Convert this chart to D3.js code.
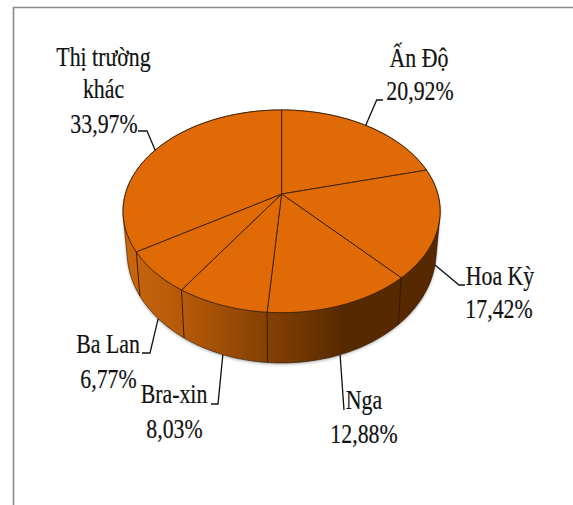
<!DOCTYPE html>
<html>
<head>
<meta charset="utf-8">
<script src="https://cdn.jsdelivr.net/npm/d3@7"></script>
<style>
  html, body { margin: 0; padding: 0; background: #fff; }
  svg { display: block; }
</style>
</head>
<body>
<div class="svg"></div>
<script>
const width = 573
const height = 505

// values, clockwise from the top
const categories = ['Ấn Độ', 'Hoa Kỳ', 'Nga', 'Bra-xin', 'Ba Lan', 'Thị trường khác']
const shares = [20.92, 17.42, 12.88, 8.03, 6.77, 33.97]
const shareLabels = ['20,92%', '17,42%', '12,88%', '8,03%', '6,77%', '33,97%']

// text rows and leader elbows for each label, same order as categories
const labelRows = [
  [['Ấn Độ', 419, 67], ['20,92%', 420, 100]],
  [['Hoa Kỳ', 500, 285], ['17,42%', 499, 318]],
  [['Nga', 364, 409], ['12,88%', 364, 443]],
  [['Bra-xin', 174, 403], ['8,03%', 174.5, 438]],
  [['Ba Lan', 108, 352.5], ['6,77%', 108.5, 388]],
  [['Thị trường', 103.5, 66], ['khác', 103.5, 98], ['33,97%', 104, 133]]
]
const leaderElbows = [
  [[376.7, 100], [383, 100]],
  [[459, 285], [465, 285]],
  [[344, 410]],
  [[218, 404], [211, 404]],
  [[150, 353], [142, 353]],
  [[147, 131], [138, 131]]
]
const leaderFromWall = [false, true, true, true, true, false]

const svg = d3
  .select('.svg')
  .append('svg')
  .attr('width', width)
  .attr('height', height)

const defs = svg.append('defs')

const wallGradient = defs
  .append('linearGradient')
  .attr('id', 'wall')
  .attr('gradientUnits', 'userSpaceOnUse')
  .attr('x1', 123)
  .attr('x2', 345)
  .attr('y1', 0)
  .attr('y2', 0)
wallGradient.append('stop').attr('offset', 0).attr('stop-color', '#cb660c')
wallGradient.append('stop').attr('offset', 0.3).attr('stop-color', '#b25808')
wallGradient.append('stop').attr('offset', 1).attr('stop-color', '#562900')

defs
  .append('filter')
  .attr('id', 'soft')
  .append('feGaussianBlur')
  .attr('stdDeviation', 1.6)

// pie seen in perspective: the far side is squeezed, the bottom disc sits lower
const cx = 281.6
const cy = 194
const k = 0.171
const topPoint = a => {
  const u = Math.sin(a)
  const v = -Math.cos(a)
  const w = 1 - k * v
  return [cx + (156.2 * u) / w, cy + (98.4 * v) / w]
}
const bottomPoint = a => {
  const [x, y] = topPoint(a)
  return [cx + 0.975 * (x - cx), 232.4 + 1.1 * (y - cy)]
}

const arcAngles = (a0, a1) => {
  const n = Math.max(2, Math.ceil((a1 - a0) * 40))
  return d3.range(n + 1).map(i => a0 + ((a1 - a0) * i) / n)
}

const line = d3.line()

const slices = d3
  .pie()
  .sort(null)
  .startAngle(0)
  .endAngle(2 * Math.PI)(shares)

const chart = svg.append('g')

// frame, open at the right and bottom
chart
  .append('path')
  .attr('d', line([[13.5, height], [13.5, 7.5], [width, 7.5]]))
  .attr('fill', 'none')
  .attr('stroke', '#8a8a8a')
  .attr('stroke-width', 1.6)

// side wall is the hull of the two discs
const circle = arcAngles(0, 2 * Math.PI)
const wallHull = d3.polygonHull(circle.map(topPoint).concat(circle.map(bottomPoint)))

chart
  .append('path')
  .attr('d', line(wallHull) + 'Z')
  .attr('transform', 'translate(0,1.5)')
  .attr('fill', '#000')
  .attr('opacity', 0.3)
  .attr('filter', 'url(#soft)')

chart
  .append('path')
  .attr('d', line(wallHull) + 'Z')
  .attr('fill', 'url(#wall)')
  .attr('stroke', '#2e1600')
  .attr('stroke-width', 0.6)

chart
  .selectAll('.edge')
  .data(slices.filter(d => Math.cos(d.startAngle) < 0))
  .enter()
  .append('path')
  .attr('class', 'edge')
  .attr('d', d => line([topPoint(d.startAngle), bottomPoint(d.startAngle)]))
  .attr('stroke', '#2e1600')
  .attr('stroke-width', 0.9)

// top face
chart
  .selectAll('.slice')
  .data(slices)
  .enter()
  .append('path')
  .attr('class', 'slice')
  .attr('d', d => line([[cx, cy]].concat(arcAngles(d.startAngle, d.endAngle).map(topPoint))) + 'Z')
  .attr('fill', '#e06a06')
  .attr('stroke', '#3a1f02')
  .attr('stroke-width', 0.9)
  .attr('stroke-linejoin', 'round')

// leader lines start at the middle of each slice
chart
  .selectAll('.leader')
  .data(slices)
  .enter()
  .append('path')
  .attr('class', 'leader')
  .attr('d', (d, i) => {
    const mid = (d.startAngle + d.endAngle) / 2
    const start = leaderFromWall[i] ? bottomPoint(mid) : topPoint(mid)
    return line([start].concat(leaderElbows[i]))
  })
  .attr('fill', 'none')
  .attr('stroke', '#111')
  .attr('stroke-width', 1.3)

// labels
chart
  .selectAll('.label')
  .data(labelRows.flat())
  .enter()
  .append('text')
  .attr('class', 'label')
  .attr('transform', d => 'translate(' + d[1] + ',' + d[2] + ') scale(0.78,1)')
  .attr('text-anchor', 'middle')
  .attr('font-family', '"Liberation Serif", serif')
  .attr('font-size', 28)
  .attr('fill', '#111')
  .attr('stroke', '#111')
  .attr('stroke-width', 0.2)
  .text(d => d[0])
</script>
</body>
</html>
